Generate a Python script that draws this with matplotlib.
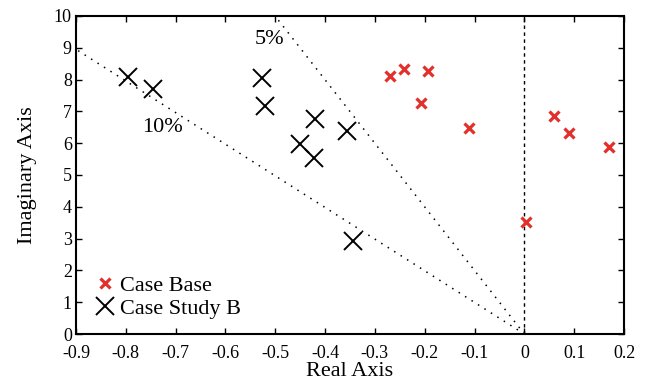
import matplotlib
matplotlib.use("Agg")
import matplotlib.pyplot as plt

# Case Base poles (real, imag)
base_re = [-0.269, -0.242, -0.194, -0.207, -0.112, 0.059, 0.090, 0.170, 0.003]
base_im = [8.11, 8.32, 8.27, 7.27, 6.49, 6.86, 6.31, 5.89, 3.51]

# Case Study B poles
study_re = [-0.795, -0.746, -0.527, -0.520, -0.420, -0.451, -0.422, -0.357, -0.344]
study_im = [8.09, 7.69, 8.04, 7.17, 6.75, 5.97, 5.52, 6.38, 2.92]

# damping guide lines: from origin to end point
line10_x = [0.0, -0.90]
line10_y = [0.0, 8.95]
line5_x = [0.0, -0.497]
line5_y = [0.0, 9.93]

xticks = [-0.9, -0.8, -0.7, -0.6, -0.5, -0.4, -0.3, -0.2, -0.1, 0, 0.1, 0.2]
xtick_labels = ["-0.9", "-0.8", "-0.7", "-0.6", "-0.5", "-0.4", "-0.3",
                "-0.2", "-0.1", "0", "0.1", "0.2"]
yticks = list(range(0, 11))

plt.rcParams["font.family"] = ["Liberation Serif", "DejaVu Serif"]

fig = plt.figure(figsize=(6.46, 3.88), dpi=100)
ax = fig.add_axes([0.1176, 0.139, 0.8484, 0.82])

ax.plot(line10_x, line10_y, color="black", lw=1.1, ls=(0, (1, 4)))
ax.plot(line5_x, line5_y, color="black", lw=1.1, ls=(0, (1, 4)))
ax.axvline(0, color="black", lw=1.0, ls=(0, (2.5, 2.5)))

ax.plot(base_re, base_im, ls="none", marker="x", color="#e3302a",
        markersize=7, mew=2.3, label="Case Base")
ax.plot(study_re, study_im, ls="none", marker="x", color="black",
        markersize=13, mew=1.4, label="Case Study B")

ax.text(-0.512, 9.25, "5%", fontsize=16, ha="center", va="center")
ax.text(-0.727, 6.48, "10%", fontsize=16, ha="center", va="center")

ax.set_xlim(-0.9, 0.2)
ax.set_ylim(0, 10)
ax.set_xticks(xticks)
ax.set_xticklabels(xtick_labels)
ax.set_yticks(yticks)
ax.tick_params(direction="in", top=True, right=True, length=4.5,
               width=1.0, labelsize=13)
ax.tick_params(axis="x", pad=8)
ax.tick_params(axis="y", pad=3)
for sp in ax.spines.values():
    sp.set_linewidth(1.5)

ax.set_xlabel("Real Axis", fontsize=16, labelpad=0)
ax.set_ylabel("Imaginary Axis", fontsize=16, labelpad=12)

ax.legend(loc="lower left", bbox_to_anchor=(0.005, 0.0), frameon=False,
          fontsize=16, handlelength=1.0, handletextpad=0.15,
          borderaxespad=0.3, labelspacing=0.1)

plt.savefig("out.png", dpi=100)
plt.close()
